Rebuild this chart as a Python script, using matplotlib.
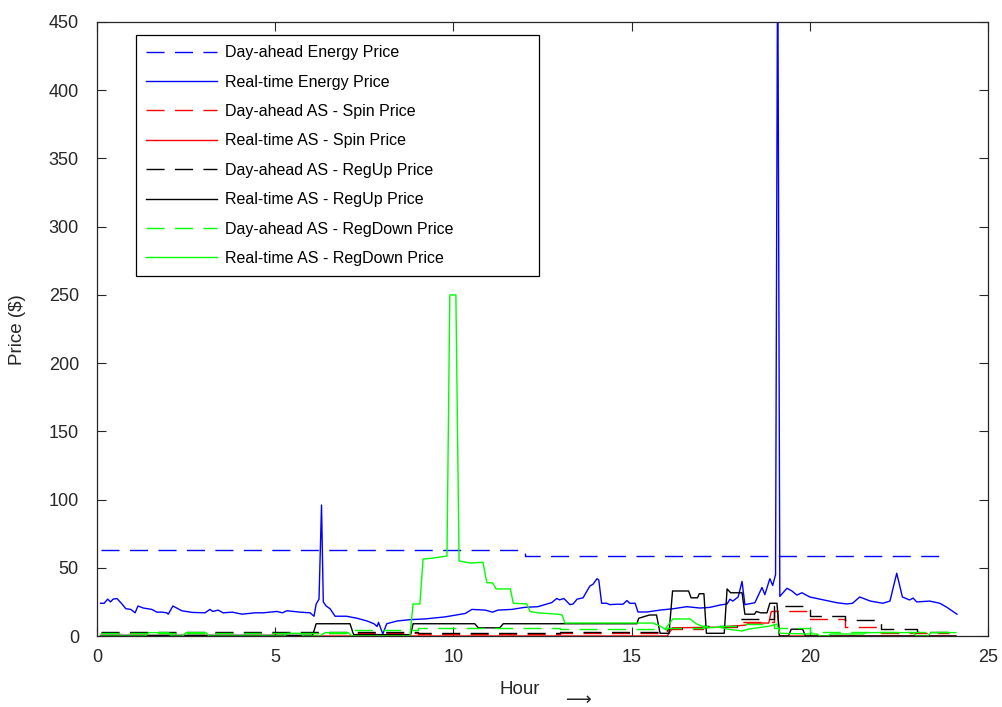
import matplotlib
matplotlib.use("Agg")
import matplotlib.pyplot as plt
import numpy as np

plt.rcParams['font.family'] = ['Liberation Sans', 'DejaVu Sans']
plt.rcParams['lines.scale_dashes'] = False

# day-ahead prices, one value per hour (hour 0..23)
da_hours = [0.1, 1, 2, 3, 4, 5, 6, 7, 8, 9, 10, 11, 12, 13, 14, 15, 16, 17, 18, 19, 20, 21, 22, 23, 23.9]
da_energy = [63, 63, 63, 63, 63, 63, 63, 63, 63, 63, 63, 63, 59, 59, 59, 59, 59, 59, 59, 59, 59, 59, 59, 59, 59]
da_spin = [2.5, 2.5, 2.5, 2.5, 2.5, 2.5, 2.5, 2.5, 2.5, 1.5, 1.5, 1.5, 1.5, 2.5, 2.5, 2.5, 5, 6.5, 10, 18.5, 12.5, 6.6, 2.5, 2, 2]
da_regup = [3, 3, 3, 3, 3, 3, 3, 3, 3, 2, 2, 2, 2, 3, 3, 3, 6, 7, 12.5, 22, 14.7, 12, 5, 3, 3]
da_regdown = [2, 2, 2, 2, 2, 2, 2, 4.5, 4.5, 6, 6, 6, 6, 5, 5, 5, 6, 7, 9, 6, 3, 3, 3, 3, 3]

# real-time energy price
rt_energy_h = [0.1, 0.2, 0.3, 0.38, 0.45, 0.56, 0.7, 0.81, 0.95, 1.07, 1.15, 1.3, 1.54, 1.68, 1.82, 1.96, 2.0, 2.13,
               2.38, 2.67, 3.03, 3.17, 3.25, 3.4, 3.54, 3.8, 4.07, 4.43, 4.66, 5.05, 5.2, 5.33, 5.7, 5.98, 6.09, 6.15,
               6.23, 6.3, 6.35, 6.43, 6.54, 6.68, 7.0, 7.3, 7.58, 7.77, 7.86, 7.9, 8.02, 8.13, 8.27, 8.42, 8.78, 9.2,
               9.76, 10.33, 10.52, 10.89, 11.1, 11.25, 11.64, 12.0, 12.37, 12.76, 12.9, 12.98, 13.1, 13.27, 13.36,
               13.47, 13.64, 13.72, 13.83, 13.92, 14.03, 14.08, 14.16, 14.3, 14.39, 14.58, 14.76, 14.87, 14.95, 15.1,
               15.18, 15.43, 15.8, 16.17, 16.55, 16.92, 17.2, 17.48, 17.68, 17.76, 17.84, 17.99, 18.1, 18.18, 18.46,
               18.66, 18.74, 18.88, 18.96, 19.04, 19.1, 19.16, 19.36, 19.5, 19.64, 19.78, 20.0, 20.29, 20.48, 20.76,
               21.04, 21.2, 21.4, 21.7, 22.05, 22.25, 22.44, 22.6, 22.8, 22.9, 23.0, 23.37, 23.65, 23.85, 24.13]
rt_energy = [24, 24, 27, 25, 27, 27.5, 23.5, 20, 19.5, 17, 22, 20.5, 19.5, 17.5, 17.5, 17, 16, 22,
             18.5, 17.3, 17, 19.5, 18, 19, 17, 17.5, 16, 17, 17, 18, 17, 18.5, 17.5, 17, 14.5, 23.5,
             27, 96, 25, 22, 20, 14.5, 14.5, 13, 11, 9, 7, 10, 1.5, 9, 10, 11, 12, 12.5,
             14, 16.5, 19.5, 19, 17.5, 19, 19.5, 21, 21.5, 24.5, 27.5, 26.5, 27.5, 23, 23.5,
             27, 28, 31.7, 36.6, 38, 42, 41, 24, 24, 23, 23.3, 23.3, 26, 24, 24,
             17.6, 17.6, 19, 20, 21.5, 20.5, 21, 22.7, 23.5, 27, 25.6, 28.6, 40, 23, 24.4,
             35.6, 30.3, 42, 37, 45, 520, 29, 35, 33, 30, 31.7, 28.6, 27, 26, 24.4,
             23.5, 24, 28.6, 25.6, 24, 25.6, 46, 28.6, 26.4, 27.8, 25, 25.6, 24, 21, 16]

# real-time spin price
rt_spin_h = [0.1, 16.0, 16.15, 17.5, 18.2, 18.3, 18.85, 18.92, 19.1, 19.15, 24.1]
rt_spin = [0, 0, 6, 6.5, 8, 9.5, 9.5, 18, 18, 0, 0]

# real-time regulation up price
rt_regup_h = [0.1, 6.05, 6.15, 7.1, 7.2, 8.8, 8.87, 10.6, 10.7, 11.3, 11.4, 15.15, 15.2, 15.5, 15.7, 15.8, 16.05,
              16.15, 16.6, 16.67, 16.85, 16.9, 17.03, 17.1, 17.6, 17.68, 17.78, 18.1, 18.18, 18.45, 18.5, 18.62,
              18.8, 18.88, 19.08, 19.15, 19.4, 19.48, 19.8, 19.88, 24.1]
rt_regup = [0.5, 0.5, 9, 9, 1, 1, 9, 9, 6, 6, 9, 9, 13, 15.4, 15.4, 2, 2,
            33, 33, 28, 28, 31, 31, 2, 2, 34.5, 31.7, 31.7, 16, 16, 18, 17,
            17, 24, 24, 0, 0, 5, 5, 0, 0]

# real-time regulation down price
rt_regdown_h = [0.1, 1.35, 1.45, 2.0, 2.1, 2.4, 2.5, 3.05, 3.15, 5.25, 5.35, 5.7, 5.8, 6.25, 6.4, 7.05, 7.15,
                8.78, 8.87, 9.06, 9.15, 9.4, 9.82, 9.9, 10.07, 10.16, 10.47, 10.83, 10.94, 11.1, 11.2, 11.6,
                11.68, 12.06, 12.15, 12.37, 12.93, 13.05, 13.13, 15.6, 15.8, 15.94, 16.16, 16.64, 16.83, 17.1,
                17.48, 17.7, 18.1, 18.27, 18.88, 19.08, 19.16, 19.92, 20.2, 20.3, 20.5, 20.6, 21.5, 21.6, 22.5,
                22.9, 23.0, 23.3, 23.4, 24.1]
rt_regdown = [0, 0, 2.5, 2.5, 0, 0, 2.5, 2.5, 0, 0, 2, 2, 0, 0, 2.5, 2.5, 0,
              0, 23.5, 23.5, 56.4, 57, 58.6, 250, 250, 55, 53.5, 54, 39, 39, 34.5, 34.5,
              24, 23.5, 18, 17, 16, 15.4, 9.5, 9.5, 7.3, 5, 12.5, 12.5, 8.8, 6,
              6.5, 5, 3.7, 5, 7.3, 8.8, 2, 1.5, 1.5, 0, 0, 1.5, 1.5, 2.5, 2.5,
              2.5, 0, 0, 2.5, 2.5]

fig = plt.figure(figsize=(10.03, 7.07), dpi=100)
ax = fig.add_axes([0.0967, 0.1004, 0.8883, 0.8685])

dash = (0, (13, 7.5))
ax.plot(da_hours, da_energy, color=(0, 0, 1), lw=1, linestyle=dash, drawstyle='steps-post', label='Day-ahead Energy Price')
ax.plot(rt_energy_h, rt_energy, color=(0, 0, 1), lw=1, label='Real-time Energy Price')
ax.plot(da_hours, da_spin, color=(1, 0, 0), lw=1, linestyle=dash, drawstyle='steps-post', label='Day-ahead AS - Spin Price')
ax.plot(rt_spin_h, rt_spin, color=(1, 0, 0), lw=1, label='Real-time AS - Spin Price')
ax.plot(da_hours, da_regup, color='black', lw=1, linestyle=dash, drawstyle='steps-post', label='Day-ahead AS - RegUp Price')
ax.plot(rt_regup_h, rt_regup, color='black', lw=1, label='Real-time AS - RegUp Price')
ax.plot(da_hours, da_regdown, color=(0, 1, 0), lw=1, linestyle=dash, drawstyle='steps-post', label='Day-ahead AS - RegDown Price')
ax.plot(rt_regdown_h, rt_regdown, color=(0, 1, 0), lw=1, label='Real-time AS - RegDown Price')

ax.set_xlim(0, 25)
ax.set_ylim(0, 450)
ax.set_xticks(np.arange(0, 26, 5))
ax.set_yticks(np.arange(0, 451, 50))
ax.tick_params(direction='in', length=6.5, width=0.8, top=True, right=True,
               labelsize=13, colors='#262626')
ax.tick_params(axis='y', pad=13)
ax.tick_params(axis='x', pad=9.5)
for s in ax.spines.values():
    s.set_color('#262626')
    s.set_linewidth(0.9)

leg = ax.legend(loc='upper left', bbox_to_anchor=(0.0438, 0.5, 0.4523, 0.479), mode='expand',
                borderaxespad=0, fontsize=11.5, handlelength=4.4, handletextpad=0.5,
                labelspacing=0.9, borderpad=0.65, fancybox=False, framealpha=1,
                edgecolor='black')
leg.get_frame().set_linewidth(0.9)

fig.text(520 / 1003, 1 - 690 / 707, 'Hour', ha='center', va='center', fontsize=13.5, color='#262626')
fig.text(577 / 1003, 1 - 699 / 707, r'$\longrightarrow$', ha='center', va='center', fontsize=13, color='#262626')
fig.text(18 / 1003, 1 - 330 / 707, 'Price (\\$)', ha='center', va='center', rotation=90, fontsize=13.5, color='#262626')

fig.savefig('out.png', dpi=100)
